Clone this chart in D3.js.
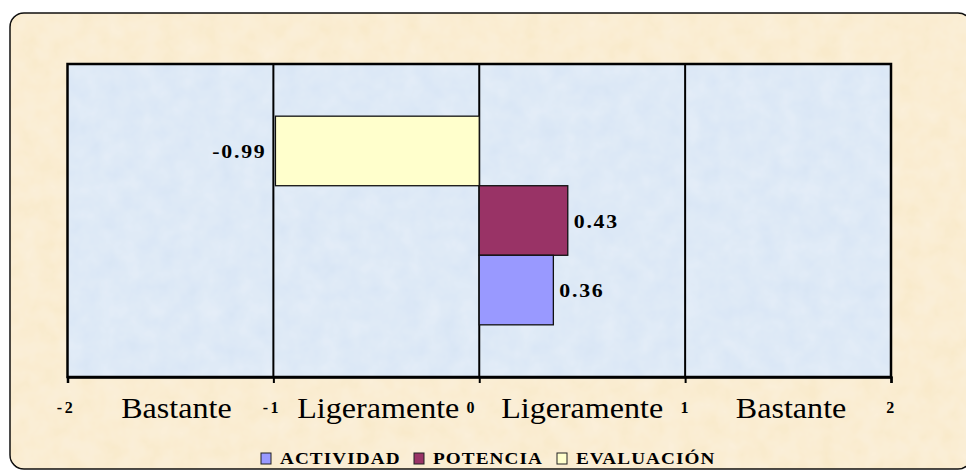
<!DOCTYPE html>
<html>
<head>
<meta charset="utf-8">
<script src="https://cdn.jsdelivr.net/npm/d3@7"></script>
<style>
  body { margin: 0; background: #ffffff; }
  svg { display: block; }
</style>
</head>
<body>
<script>
// Data
const series = ['EVALUACIÓN', 'POTENCIA', 'ACTIVIDAD']; // top to bottom
const values = [-0.99, 0.43, 0.36];
const valueLabels = ['-0.99', '0.43', '0.36'];
const legendOrder = ['ACTIVIDAD', 'POTENCIA', 'EVALUACIÓN'];
const ticks = [-2, -1, 0, 1, 2];
const zoneCenters = [-1.5, -0.5, 0.5, 1.5];
const zoneLabels = ['Bastante', 'Ligeramente', 'Ligeramente', 'Bastante'];

const W = 966, H = 470;
const plot = { left: 67.5, right: 891, top: 64, bottom: 377 };

const color = d3.scaleOrdinal()
  .domain(['ACTIVIDAD', 'POTENCIA', 'EVALUACIÓN'])
  .range(['#9999ff', '#993366', '#ffffcc']);

const svg = d3.select('body').append('svg')
  .attr('width', W)
  .attr('height', H);

// Texture filter for the backgrounds
const defs = svg.append('defs');
const f = defs.append('filter').attr('id', 'tex').attr('x', 0).attr('y', 0).attr('width', 1).attr('height', 1);
f.append('feTurbulence').attr('type', 'fractalNoise').attr('baseFrequency', 0.05).attr('numOctaves', 3).attr('seed', 4).attr('result', 'noise');
f.append('feColorMatrix').attr('in', 'noise').attr('type', 'matrix')
  .attr('values', '0 0 0 0 1  0 0 0 0 1  0 0 0 0 1  0 0 0 0.35 -0.05')
  .attr('result', 'light');
f.append('feComposite').attr('in', 'light').attr('in2', 'SourceGraphic').attr('operator', 'atop');

// Outer frame
svg.append('rect')
  .attr('x', 10).attr('y', 13)
  .attr('width', 962).attr('height', 456)
  .attr('rx', 14)
  .attr('fill', '#f9eacb')
  .attr('stroke', '#111')
  .attr('stroke-width', 1.5);
svg.append('rect')
  .attr('x', 11).attr('y', 14)
  .attr('width', 960).attr('height', 454)
  .attr('rx', 13)
  .attr('fill', '#f9eacb')
  .attr('filter', 'url(#tex)');

// Scales
const x = d3.scaleLinear().domain([-2, 2]).range([plot.left, plot.right]);
const y = d3.scaleBand().domain(series).range([plot.top, plot.bottom]).paddingOuter(0.75).paddingInner(0);

// Plot area
svg.append('rect')
  .attr('x', plot.left).attr('y', plot.top)
  .attr('width', plot.right - plot.left).attr('height', plot.bottom - plot.top)
  .attr('fill', '#d9e6f5')
  .attr('filter', 'url(#tex)');

// Vertical gridlines
svg.append('g').selectAll('line')
  .data(ticks.slice(1, -1))
  .enter().append('line')
  .attr('x1', d => x(d)).attr('x2', d => x(d))
  .attr('y1', plot.top).attr('y2', plot.bottom)
  .attr('stroke', '#000')
  .attr('stroke-width', 2);

// Bars
svg.append('g').selectAll('rect')
  .data(series)
  .enter().append('rect')
  .attr('x', (d, i) => x(Math.min(0, values[i])))
  .attr('y', d => y(d))
  .attr('width', (d, i) => Math.abs(x(values[i]) - x(0)))
  .attr('height', y.bandwidth())
  .attr('fill', d => color(d))
  .attr('stroke', '#111')
  .attr('stroke-width', 1.3);

// Value labels
svg.append('g').selectAll('text')
  .data(series)
  .enter().append('text')
  .attr('transform', (d, i) => 'translate(' + (values[i] < 0 ? x(values[i]) - 9 : x(values[i]) + 6) + ',' +
    (y(d) + y.bandwidth() / 2 + 7) + ') scale(1.15,1)')
  .attr('text-anchor', (d, i) => values[i] < 0 ? 'end' : 'start')
  .style('font-family', '"Liberation Serif", serif')
  .style('font-weight', 'bold')
  .style('font-size', '19px')
  .style('letter-spacing', '1.5px')
  .text((d, i) => valueLabels[i]);

// Plot border
svg.append('rect')
  .attr('x', plot.left).attr('y', plot.top)
  .attr('width', plot.right - plot.left).attr('height', plot.bottom - plot.top)
  .attr('fill', 'none')
  .attr('stroke', '#000')
  .attr('stroke-width', 2.5);

// X axis
const xAxis = d3.axisBottom(x).tickValues(ticks).tickSize(6).tickFormat(d3.format('d'));
const gx = svg.append('g')
  .attr('transform', 'translate(0,' + plot.bottom + ')')
  .call(xAxis);
gx.select('.domain').attr('stroke', '#000').attr('stroke-width', 2.5);
gx.selectAll('.tick line').attr('stroke', '#000').attr('stroke-width', 2);
gx.selectAll('.tick text')
  .attr('y', 36)
  .attr('dy', 0)
  .attr('dx', d => d < 0 ? -2 : (d === 0 ? -8 : 0))
  .attr('fill', '#000')
  .style('font-family', '"Liberation Serif", serif')
  .style('font-weight', 'bold')
  .style('font-size', '16px')
  .style('letter-spacing', '2.5px')
  .text(d => d < 0 ? '-' + Math.abs(d) : d);

// Zone labels
const zoneShift = [6, 2, 0, 3];
svg.append('g').selectAll('text')
  .data(zoneCenters)
  .enter().append('text')
  .attr('transform', (d, i) => 'translate(' + (x(d) + zoneShift[i]) + ',' + (plot.bottom + 41) + ') scale(1.07,1)')
  .attr('text-anchor', 'middle')
  .style('font-family', '"Liberation Serif", serif')
  .style('font-size', '30px')
  .text((d, i) => zoneLabels[i]);

// Legend
const legend = svg.append('g');
const legendX = [261, 414, 557];
legendOrder.forEach(function (name, i) {
  const g = legend.append('g').attr('transform', 'translate(' + legendX[i] + ',453)');
  g.append('rect')
    .attr('width', 10).attr('height', 11)
    .attr('fill', color(name))
    .attr('stroke', '#222')
    .attr('stroke-width', 1);
  g.append('text')
    .attr('transform', 'translate(19,11) scale(1.2,1)')
    .style('font-family', '"Liberation Serif", serif')
    .style('font-weight', 'bold')
    .style('font-size', '16px')
    .style('letter-spacing', '0.9px')
    .text(name);
});
</script>
</body>
</html>
